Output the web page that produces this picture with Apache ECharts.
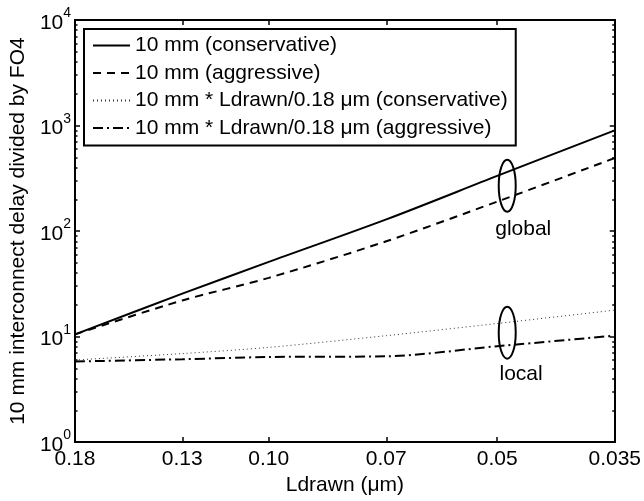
<!DOCTYPE html>
<html>
<head>
<meta charset="utf-8">
<script src="https://cdn.jsdelivr.net/npm/echarts@6/dist/echarts.min.js"></script>
<style>
html,body{margin:0;padding:0;background:#fff;}
#c{width:644px;height:501px;}
</style>
</head>
<body>
<div id="c"></div>
<script>
// ---- data ----
const Ldrawn = [0.18, 0.13, 0.10, 0.07, 0.05, 0.035];
const xTickLabels = ['0.18', '0.13', '0.10', '0.07', '0.05', '0.035'];
const yMajorTicks = [1, 10, 100, 1000, 10000];
const yMinorTicks = [2,3,4,5,6,7,8,9,20,30,40,50,60,70,80,90,200,300,400,500,600,700,800,900,2000,3000,4000,5000,6000,7000,8000,9000];
const globalConservative = [10.5, 25.5, 51, 129, 333, 900];
const globalAggressive   = [10.5, 22, 36, 80, 190, 492];
const localConservative  = [6.0, 6.9, 7.9, 10.2, 13.3, 17.8];
const localAggressive    = [5.8, 6.1, 6.4, 6.5, 8.1, 10.2];
const seriesNames = [
  '10 mm (conservative)',
  '10 mm (aggressive)',
  '10 mm * Ldrawn/0.18 \u03bcm (conservative)',
  '10 mm * Ldrawn/0.18 \u03bcm (aggressive)'
];
const annotGlobal = {x: 0.0485, y: 269, label: 'global', labelX: 0.0462, labelY: 105};
const annotLocal  = {x: 0.0485, y: 10.9, label: 'local', labelX: 0.0465, labelY: 4.4};

const FONT = "'Liberation Sans', Arial, Helvetica, sans-serif";
const pair = arr => arr.map((v, i) => [Ldrawn[i], v]);

function xAxisCfg(pos, showLabel) {
  return {
    type: 'log', logBase: 10, position: pos, inverse: true,
    min: 0.035, max: 0.18,
    axisLine: {show: true, onZero: false, lineStyle: {color: '#000', width: 2}},
    axisTick: {show: true, inside: true, length: 5, customValues: Ldrawn, lineStyle: {color: '#000', width: 1.5}},
    axisLabel: {
      show: showLabel, customValues: Ldrawn, margin: 7,
      color: '#000', fontSize: 21, fontFamily: FONT,
      formatter: function (v) {
        let best = 0, bd = Infinity;
        Ldrawn.forEach((l, i) => { const d = Math.abs(l - v); if (d < bd) { bd = d; best = i; } });
        return xTickLabels[best];
      }
    },
    splitLine: {show: false},
    minorTick: {show: false},
    name: showLabel ? 'Ldrawn (\u03bcm)' : '',
    nameLocation: 'middle', nameGap: 30,
    nameTextStyle: {color: '#000', fontSize: 21, fontFamily: FONT}
  };
}
function yAxisCfg(pos, showLabel, ticks, len) {
  return {
    type: 'log', logBase: 10, position: pos,
    min: 1, max: 10000,
    axisLine: {show: true, lineStyle: {color: '#000', width: 2}},
    axisTick: {show: true, inside: true, length: len, customValues: ticks, lineStyle: {color: '#000', width: 1.5}},
    axisLabel: {
      show: showLabel, customValues: ticks, margin: 4, color: '#000',
      formatter: v => '{b|10}{s|' + Math.round(Math.log10(v)) + '}',
      rich: {
        b: {fontSize: 21, lineHeight: 27, verticalAlign: 'bottom', fontFamily: FONT, color: '#000'},
        s: {fontSize: 14, lineHeight: 27, verticalAlign: 'top', fontFamily: FONT, color: '#000'}
      }
    },
    splitLine: {show: false},
    minorTick: {show: false},
    name: showLabel ? '10 mm interconnect delay divided by FO4' : '',
    nameLocation: 'middle', nameGap: 38,
    nameTextStyle: {color: '#000', fontSize: 21, fontFamily: FONT}
  };
}

const option = {
  animation: false,
  backgroundColor: '#fff',
  textStyle: {fontFamily: FONT},
  grid: {left: 73, right: 28, top: 20, bottom: 53, containLabel: false},
  xAxis: [xAxisCfg('bottom', true), xAxisCfg('top', false)],
  yAxis: [
    yAxisCfg('left', true, yMajorTicks, 5),
    yAxisCfg('right', false, yMajorTicks, 5),
    yAxisCfg('left', false, yMinorTicks, 2.5),
    yAxisCfg('right', false, yMinorTicks, 2.5)
  ],
  legend: {
    orient: 'vertical', left: 84, top: 29,
    itemWidth: 37, itemHeight: 14, itemGap: 6.5,
    padding: [6, 8, 7, 8],
    borderColor: '#000', borderWidth: 2, backgroundColor: '#fff',
    itemStyle: {opacity: 0},
    textStyle: {color: '#000', fontSize: 21, lineHeight: 21, fontFamily: FONT},
    data: seriesNames
  },
  series: [
    {name: seriesNames[0], type: 'line', data: pair(globalConservative), smooth: 0.3, symbol: 'none',
     lineStyle: {color: '#000', width: 2, type: 'solid'}, itemStyle: {color: '#000'}},
    {name: seriesNames[1], type: 'line', data: pair(globalAggressive), smooth: 0.3, symbol: 'none',
     lineStyle: {color: '#000', width: 2, type: [8, 6]}, itemStyle: {color: '#000'}},
    {name: seriesNames[2], type: 'line', data: pair(localConservative), smooth: 0.3, symbol: 'none',
     lineStyle: {color: '#333', width: 1, type: [1, 3]}, itemStyle: {color: '#333'}},
    {name: seriesNames[3], type: 'line', data: pair(localAggressive), smooth: 0.3, symbol: 'none',
     lineStyle: {color: '#000', width: 2, type: [10, 4, 2, 4]}, itemStyle: {color: '#000'}}
  ]
};

const chart = echarts.init(document.getElementById('c'), null, {renderer: 'canvas'});
chart.setOption(option);

function px(x, y) { return chart.convertToPixel({xAxisIndex: 0, yAxisIndex: 0}, [x, y]); }
const graphics = [];
[annotGlobal, annotLocal].forEach(a => {
  const c = px(a.x, a.y);
  const t = px(a.labelX, a.labelY);
  graphics.push({type: 'ellipse', shape: {cx: c[0], cy: c[1], rx: 8.5, ry: 26},
                 style: {fill: 'none', stroke: '#000', lineWidth: 2}, z: 100});
  graphics.push({type: 'text', x: t[0], y: t[1],
                 style: {text: a.label, fill: '#000', font: '21px ' + FONT, textAlign: 'center', textVerticalAlign: 'middle'}, z: 100});
});
chart.setOption({graphic: graphics});
</script>
</body>
</html>
